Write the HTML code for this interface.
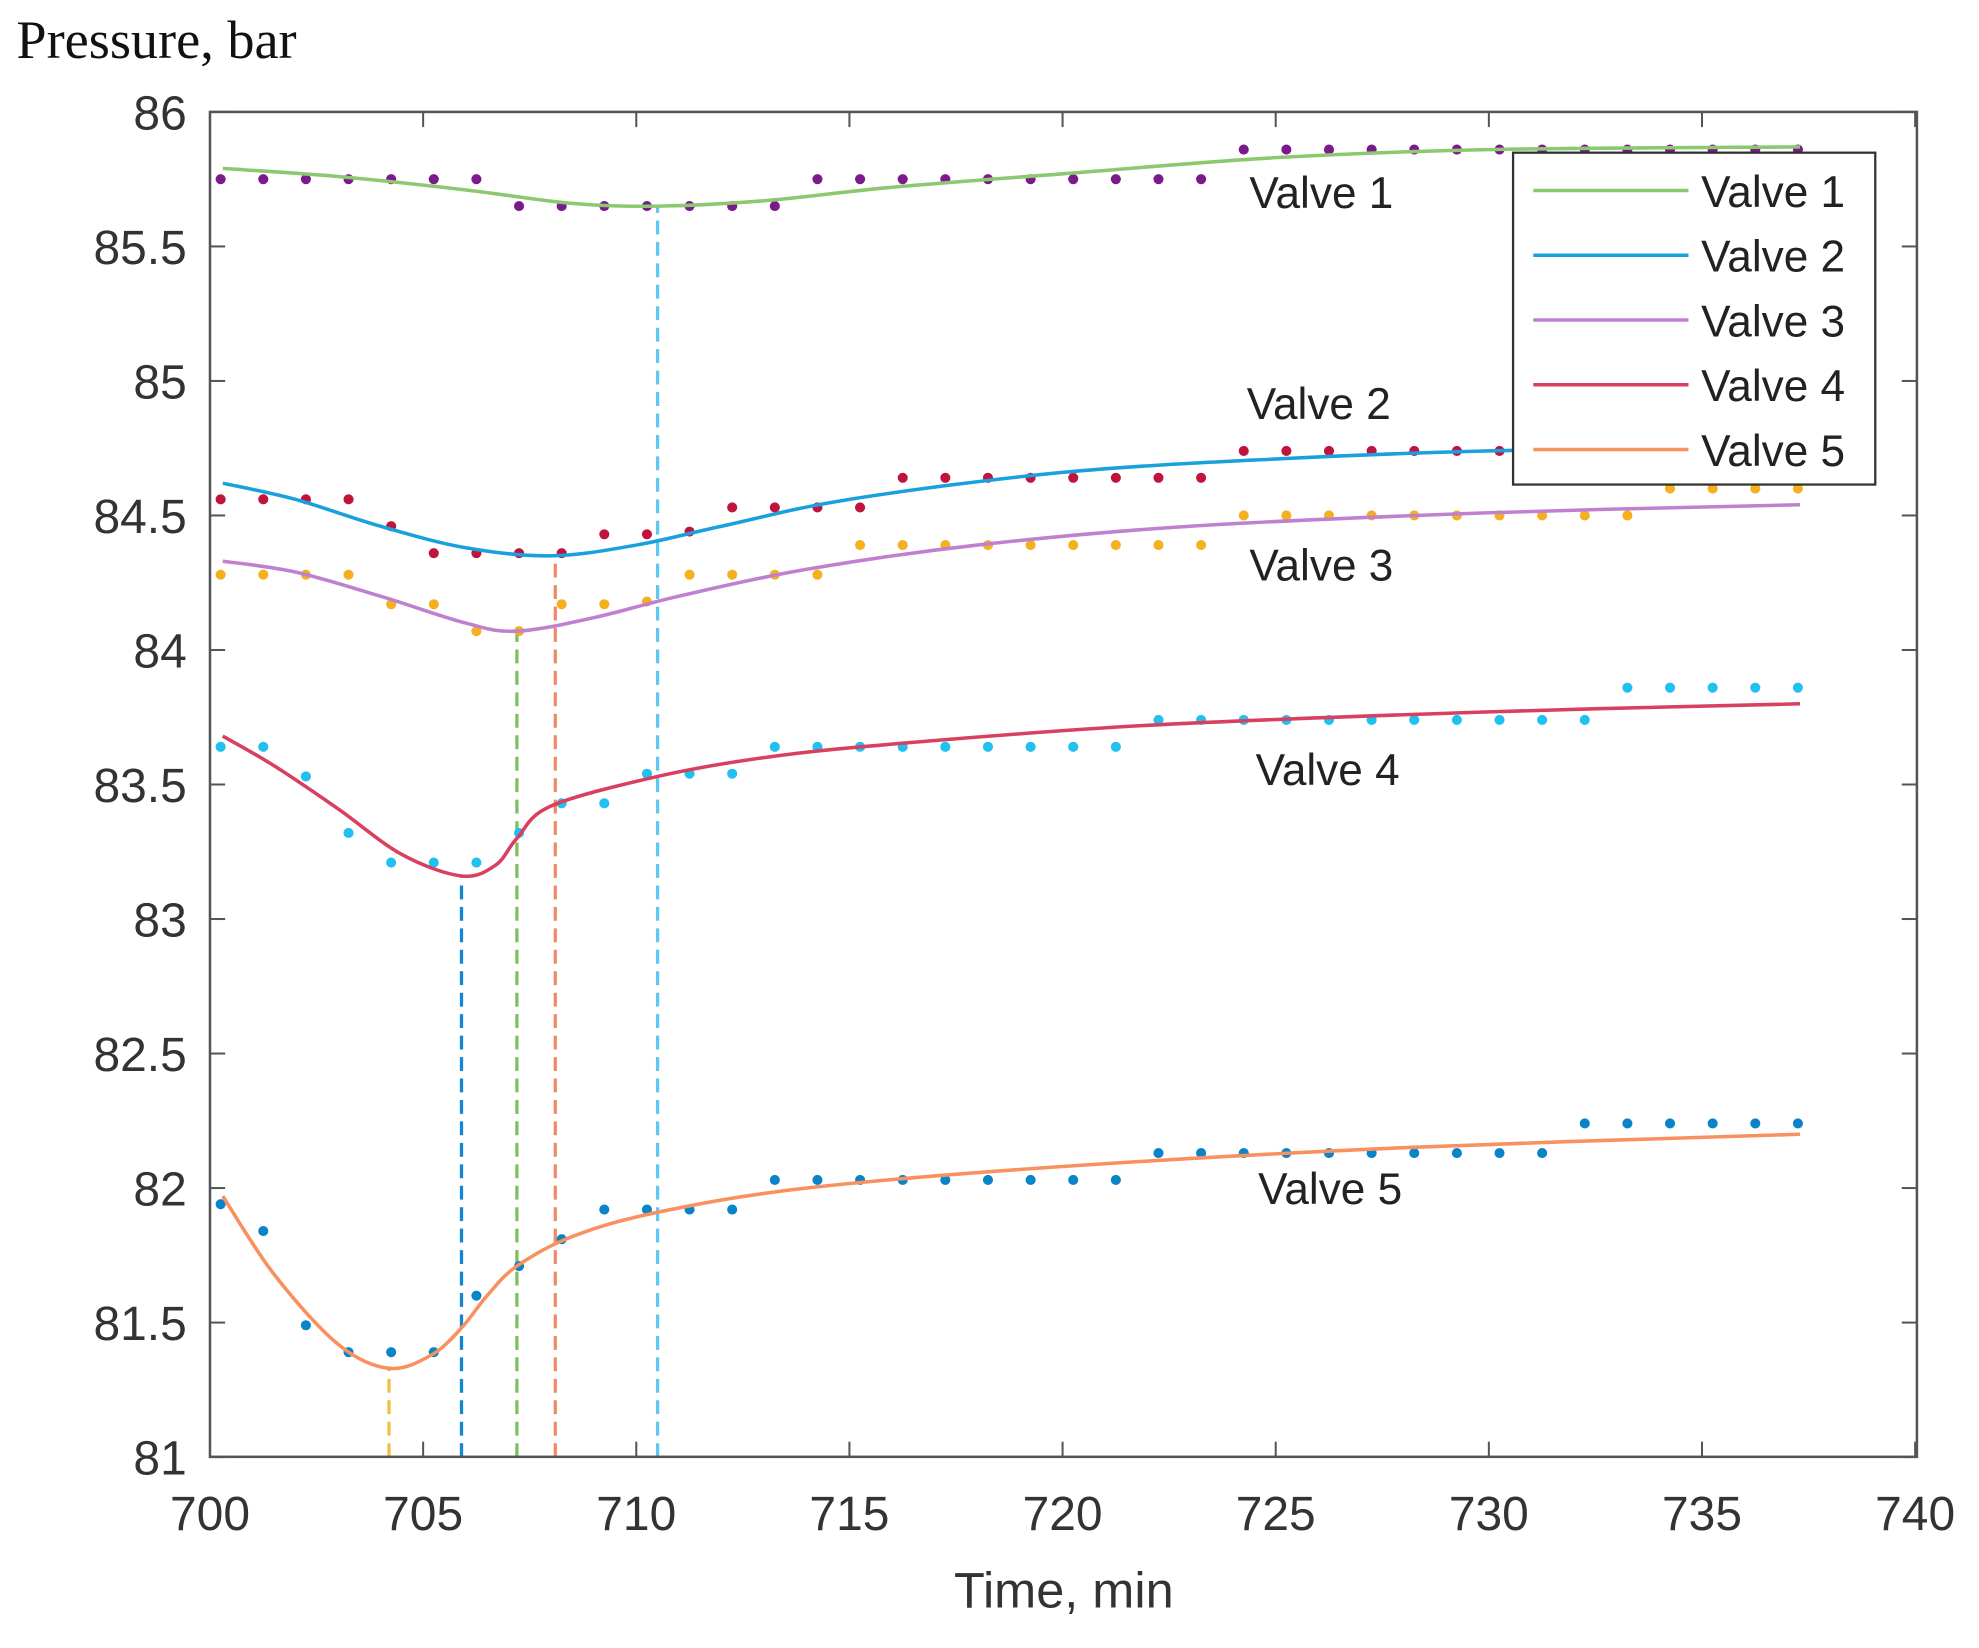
<!DOCTYPE html>
<html><head><meta charset="utf-8"><style>html,body{margin:0;padding:0;background:#fff}svg{display:block}</style></head>
<body>
<svg id="s" width="1979" height="1648" viewBox="0 0 1568.2 1306" preserveAspectRatio="none" xmlns="http://www.w3.org/2000/svg" font-family="Liberation Sans, Arial, sans-serif">
<rect width="1568.2" height="1306" fill="#fff"/>
<text x="13" y="46" font-family="Liberation Serif, serif" font-size="43" fill="#111">Pressure, bar</text>
<g id="g"></g>
</svg>
<script>
const g=document.getElementById('g');
const X=t=>166.4+(t-700)*33.78, Y=p=>88.7+(86-p)*213.2;
let h='';
const add=s=>h+=s;
[[704.2,81.33,'#f2c040'],[705.9,83.16,'#1585d5'],[707.2,84.07,'#7cc060'],[708.1,84.35,'#f08a68'],[710.5,85.65,'#60c8f0']].forEach(([t,p,c])=>{
add(`<line x1="${X(t)}" y1="${Y(81)}" x2="${X(t)}" y2="${Y(p)}" stroke="${c}" stroke-width="2.6" stroke-dasharray="11,6"/>`);});
function path(pts,c){let d='M'+X(pts[0][0])+','+Y(pts[0][1]);
for(let i=0;i<pts.length-1;i++){const p0=pts[Math.max(i-1,0)],p1=pts[i],p2=pts[i+1],p3=pts[Math.min(i+2,pts.length-1)];
const a=[X(p1[0])+(X(p2[0])-X(p0[0]))/6,Y(p1[1])+(Y(p2[1])-Y(p0[1]))/6],b=[X(p2[0])-(X(p3[0])-X(p1[0]))/6,Y(p2[1])-(Y(p3[1])-Y(p1[1]))/6];
d+=`C${a[0]},${a[1]} ${b[0]},${b[1]} ${X(p2[0])},${Y(p2[1])}`;}
add(`<path d="${d}" fill="none" stroke="${c}" stroke-width="2.8"/>`);}
function dots(vals,c){vals.forEach((v,k)=>{if(v!=null)add(`<circle cx="${X(700.25+k)}" cy="${Y(v)}" r="4" fill="${c}"/>`);});}
function seq(spec){const a=[];spec.forEach(([n,v])=>{for(let i=0;i<n;i++)a.push(v)});return a;}
dots(seq([[7,85.75],[7,85.65],[10,85.75],[14,85.86]]),'#7b1a8a');
dots(seq([[4,84.56],[1,84.46],[4,84.36],[2,84.43],[1,84.44],[4,84.53],[8,84.64],[14,84.74]]),'#c0143c');
dots(seq([[4,84.28],[2,84.17],[2,84.07],[2,84.17],[1,84.18],[4,84.28],[9,84.39],[10,84.50],[4,84.6]]),'#f5b020');
dots(seq([[2,83.64],[1,83.53],[1,83.32],[3,83.21],[1,83.32],[2,83.43],[3,83.54],[9,83.64],[11,83.74],[5,83.86]]),'#20c0f0');
dots(seq([[1,81.94],[1,81.84],[1,81.49],[3,81.39],[1,81.6],[1,81.71],[1,81.81],[4,81.92],[9,82.03],[10,82.13],[6,82.24]]),'#0a84c8');
path([[700.3,85.79],[703,85.76],[706,85.71],[708.5,85.66],[710.5,85.65],[713,85.67],[716,85.72],[720,85.77],[725,85.83],[730,85.86],[737.3,85.87]],'#8cc870');
path([[700.3,84.62],[702,84.56],[704,84.46],[706,84.38],[708,84.35],[710,84.39],[712,84.46],[715,84.56],[720,84.66],[725,84.71],[730,84.74],[737.3,84.76]],'#1aa0dc');
path([[700.3,84.33],[702,84.29],[704,84.2],[706,84.1],[707.2,84.07],[709,84.12],[711,84.2],[714,84.3],[718,84.39],[723,84.46],[730,84.51],[737.3,84.54]],'#c080d0');
path([[700.3,83.68],[701.5,83.57],[703,83.41],[704.5,83.24],[705.9,83.16],[706.7,83.2],[707.2,83.3],[708,83.42],[710.5,83.53],[713,83.6],[716,83.65],[722,83.72],[730,83.77],[737.3,83.8]],'#d84060');
path([[700.3,81.97],[701.5,81.68],[703,81.42],[704.2,81.33],[705.2,81.38],[705.9,81.48],[706.5,81.6],[707.2,81.71],[708.5,81.82],[710.5,81.91],[714,82.0],[720,82.08],[728,82.15],[737.3,82.2]],'#f89060');
const L=166.4,R=1519,T=88.7,B=1154.5;
add(`<rect x="${L}" y="${T}" width="${R-L}" height="${B-T}" fill="none" stroke="#555" stroke-width="2"/>`);
for(let t=700;t<=740;t+=5){const x=X(t);add(`<line x1="${x}" y1="${B}" x2="${x}" y2="${B-12}" stroke="#555" stroke-width="1.6"/><line x1="${x}" y1="${T}" x2="${x}" y2="${T+12}" stroke="#555" stroke-width="1.6"/><text x="${x}" y="${B+58}" text-anchor="middle" font-size="38" fill="#333">${t}</text>`);}
for(let p=81;p<=86;p+=0.5){const y=Y(p);add(`<line x1="${L}" y1="${y}" x2="${L+12}" y2="${y}" stroke="#555" stroke-width="1.6"/><line x1="${R}" y1="${y}" x2="${R-12}" y2="${y}" stroke="#555" stroke-width="1.6"/><text x="148" y="${y+14}" text-anchor="end" font-size="38" fill="#333">${p}</text>`);}
add(`<text x="843" y="1274" text-anchor="middle" font-size="40" fill="#333">Time, min</text>`);
[['Valve 1',990,165],['Valve 2',988,332],['Valve 3',990,460],['Valve 4',995,622],['Valve 5',997,954]].forEach(([s,x,y])=>add(`<text x="${x}" y="${y}" font-size="35" fill="#222">${s}</text>`));
add(`<rect x="1199" y="121" width="287" height="263" fill="#fff" stroke="#333" stroke-width="1.8"/>`);
[['#8cc870','Valve 1'],['#1aa0dc','Valve 2'],['#c080d0','Valve 3'],['#d84060','Valve 4'],['#f89060','Valve 5']].forEach(([c,s],i)=>{const y=151+i*51.3;
add(`<line x1="1215" y1="${y}" x2="1338" y2="${y}" stroke="${c}" stroke-width="2.8"/><text x="1348" y="${y+13}" font-size="35" fill="#222">${s}</text>`);});
g.innerHTML=h;
</script>
</body></html>
